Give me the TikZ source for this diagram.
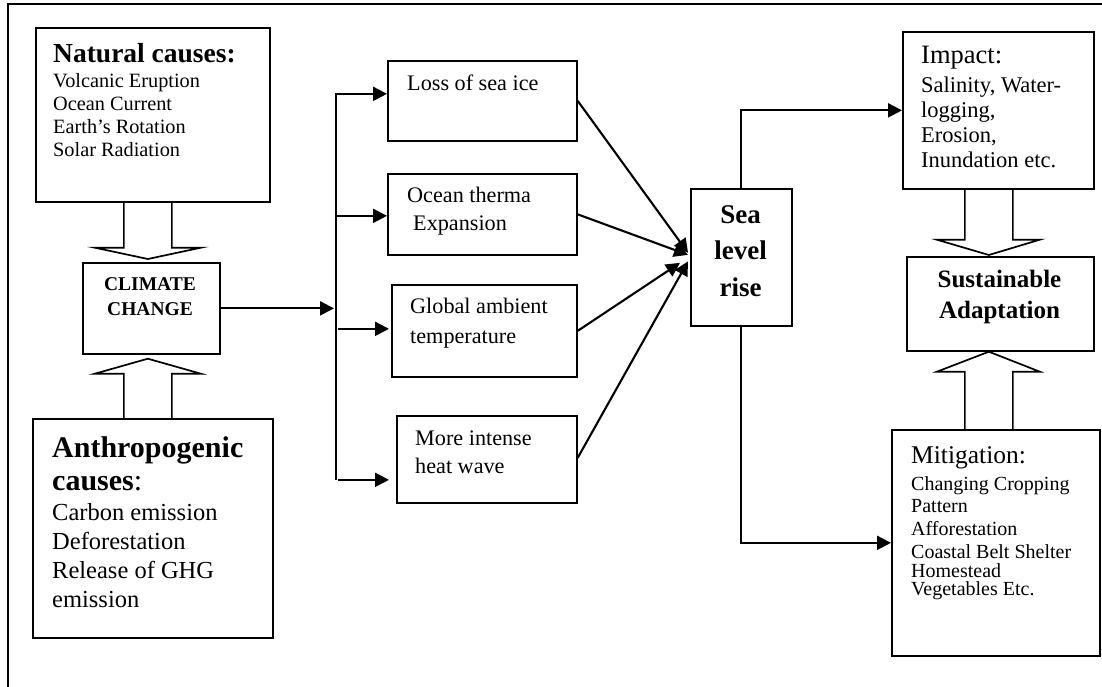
\documentclass[tikz,border=0pt]{standalone}
\usepackage{fontspec}
\setmainfont{Liberation Serif}
\usetikzlibrary{arrows.meta,calc}
\newcommand{\fs}[2]{\fontsize{#1}{#2}\selectfont}
\begin{document}
\begin{tikzpicture}[x=1pt,y=-1pt,
 box/.style={draw, line width=1.7pt, inner sep=0pt, anchor=north west},
 txt/.style={inner sep=0pt, anchor=base west},
 ctxt/.style={inner sep=0pt, anchor=base},
 arr/.style={line width=2.1pt, -{Triangle[length=14pt,width=14pt]}},
 plain/.style={line width=2.1pt},
 hol/.style={draw, line width=1.7pt, line join=miter},
 frame/.style={line width=1.8pt}
]
\useasboundingbox (0,0) rectangle (1102,687);
\draw[frame] (1102,4) -- (8,4) -- (8,687);

% boxes
\node[box, minimum width=234pt, minimum height=174pt] (nat) at (35,27) {};
\node[box, minimum width=137pt, minimum height=91pt] (cc) at (82,262) {};
\node[box, minimum width=240pt, minimum height=219pt] (anthro) at (32,418) {};
\node[box, minimum width=189pt, minimum height=80pt] (loss) at (387,60) {};
\node[box, minimum width=189pt, minimum height=81pt] (ocean) at (387,173) {};
\node[box, minimum width=185pt, minimum height=92pt] (global) at (391,284) {};
\node[box, minimum width=180pt, minimum height=87pt] (more) at (396,415) {};
\node[box, minimum width=101pt, minimum height=137pt] (sea) at (690,188) {};
\node[box, minimum width=191pt, minimum height=157pt] (impact) at (902,31) {};
\node[box, minimum width=187pt, minimum height=94pt] (sust) at (906,256) {};
\node[box, minimum width=208pt, minimum height=226pt] (mitig) at (891,429) {};

% texts
\node[txt, font=\bfseries\fs{27.5}{30}] (natH) at (53,63) {Natural causes:};
\node[txt, font=\fs{20.3}{23}] (natB) at (53,88) {\begin{tabular}[t]{@{}l@{}}Volcanic Eruption\\Ocean Current\\Earth’s Rotation\\Solar Radiation\end{tabular}};
\node[ctxt, font=\bfseries\fs{19.5}{25}] (ccT) at (150,290) {\begin{tabular}[t]{@{}c@{}}CLIMATE\\CHANGE\end{tabular}};
\node[txt, font=\fs{30}{33}] (anH) at (52,457) {\begin{tabular}[t]{@{}l@{}}\bfseries Anthropogenic\\\bfseries causes\mdseries:\end{tabular}};
\node[txt, font=\fs{24.5}{29}] (anB) at (52,520) {\begin{tabular}[t]{@{}l@{}}Carbon emission\\Deforestation\\Release of GHG\\emission\end{tabular}};
\node[txt, font=\fs{22.2}{28}] (lossT) at (407,91) {Loss of sea ice};
\node[txt, font=\fs{22.2}{28}] (oceanT) at (407,203) {\begin{tabular}[t]{@{}l@{}}Ocean therma\\\hspace{6pt}Expansion\end{tabular}};
\node[txt, font=\fs{22.2}{30}] (globalT) at (410,313) {\begin{tabular}[t]{@{}l@{}}Global ambient\\temperature\end{tabular}};
\node[txt, font=\fs{22.2}{28}] (moreT) at (415,445) {\begin{tabular}[t]{@{}l@{}}More intense\\heat wave\end{tabular}};
\node[ctxt, font=\bfseries\fs{27}{36.5}] (seaT) at (740.5,223) {\begin{tabular}[t]{@{}c@{}}Sea\\level\\rise\end{tabular}};
\node[txt, font=\fs{26.5}{30}] (impH) at (921,64) {Impact:};
\node[txt, font=\fs{22.5}{25}] (impB) at (921,93) {\begin{tabular}[t]{@{}l@{}}Salinity, Water-\\logging,\\Erosion,\\Inundation etc.\end{tabular}};
\node[ctxt, font=\bfseries\fs{25}{31}] (sustT) at (999.5,287) {\begin{tabular}[t]{@{}c@{}}Sustainable\\Adaptation\end{tabular}};
\node[txt, font=\fs{25.5}{30}] (mitH) at (911,463) {Mitigation:};
\node[txt, font=\fs{20}{22.7}] (mitB) at (911,490) {\begin{tabular}[t]{@{}l@{}}Changing Cropping\\Pattern\\Afforestation\\Coastal Belt Shelter\end{tabular}};
\node[txt, font=\fs{20}{17}] (mitC) at (911,577) {\begin{tabular}[t]{@{}l@{}}Homestead\\Vegetables Etc.\end{tabular}};

% hollow block arrows
\coordinate (h1) at ($(nat.south -| cc.north)+(-3.5,0)$);
\draw[hol] ($(h1)+(-24,0)$) -- ($(h1)+(-24,45)$) -- ($(h1)+(-53,45)$) -- ($(h1 |- cc.north)+(0,-3)$) -- ($(h1)+(53,45)$) -- ($(h1)+(24,45)$) -- ($(h1)+(24,0)$);
\coordinate (h2) at ($(anthro.north -| cc.south)+(-3.5,0)$);
\draw[hol] ($(h2)+(-24,0)$) -- ($(h2 |- cc.south)+(-24,19)$) -- ($(h2 |- cc.south)+(-53,19)$) -- ($(h2 |- cc.south)+(0,4)$) -- ($(h2 |- cc.south)+(53,19)$) -- ($(h2 |- cc.south)+(24,19)$) -- ($(h2)+(24,0)$);
\coordinate (h3) at ($(impact.south)+(-9.5,0)$);
\draw[hol] ($(h3)+(-24,0)$) -- ($(h3)+(-24,50)$) -- ($(h3)+(-52,50)$) -- ($(h3 |- sust.north)+(0,-1)$) -- ($(h3)+(51,50)$) -- ($(h3)+(24,50)$) -- ($(h3)+(24,0)$);
\coordinate (h4) at ($(mitig.north)+(-7,0)$);
\draw[hol] ($(h4)+(-24,0)$) -- ($(h4 |- sust.south)+(-24,20)$) -- ($(h4 |- sust.south)+(-52,20)$) -- (h4 |- sust.south) -- ($(h4 |- sust.south)+(51,20)$) -- ($(h4 |- sust.south)+(24,20)$) -- ($(h4)+(24,0)$);

% branch arrows
\coordinate (bx) at (336,0);
\coordinate (lossin) at ($(loss.west)+(0,-7)$);
\coordinate (oceanin) at ($(ocean.west)+(0,1.5)$);
\coordinate (globin) at ($(global.west)+(-2,-2)$);
\coordinate (morein) at ($(more.west)+(-7,20.5)$);
\draw[arr] (cc.east) -- ($(bx |- cc.east)+(-2,0)$);
\draw[plain] ($(bx |- lossin)+(0,-1)$) -- (bx |- morein);
\draw[arr] (bx |- lossin) -- (lossin);
\draw[arr] (bx |- oceanin) -- (oceanin);
\draw[arr] ($(bx |- globin)+(2,0)$) -- (globin);
\draw[arr] ($(bx |- morein)+(2,0)$) -- (morein);

% converging arrows
\draw[arr] (loss.east) -- ($(sea.west)+(-2,-4.5)$);
\draw[arr] (ocean.east) -- ($(sea.west)+(-2,-2.5)$);
\draw[arr] (global.east) -- ($(sea.west)+(-10,5.5)$);
\draw[arr] ($(more.east)+(0,-1.5)$) -- ($(sea.west)+(-2,4)$);

% outputs of sea level rise
\draw[arr] (sea.north) |- (impact.west);
\draw[arr] (sea.south) |- (mitig.west);
\end{tikzpicture}
\end{document}
